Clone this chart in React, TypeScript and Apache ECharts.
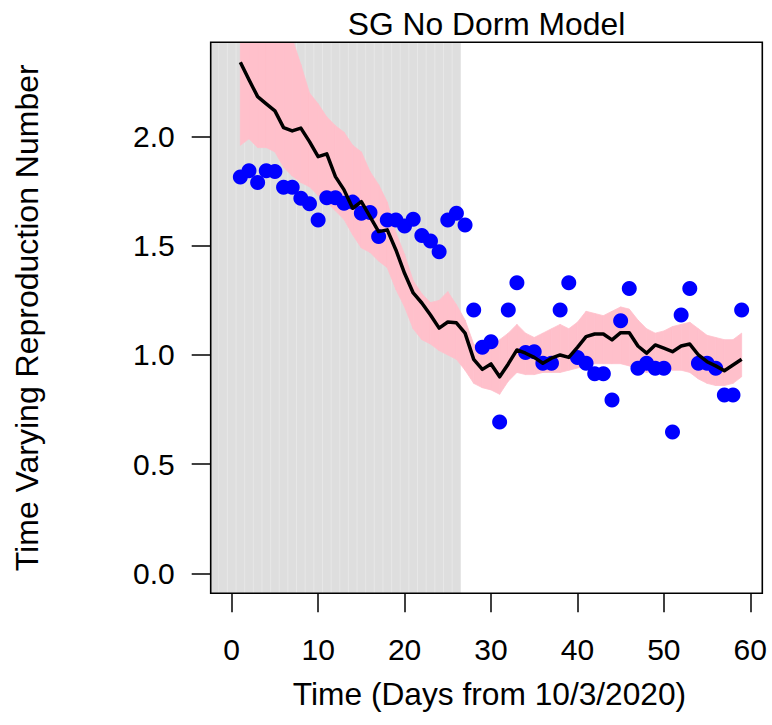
import React, { useEffect, useRef } from "react";
import * as echarts from "echarts";

// ---------- data ----------
const days = [
  1, 2, 3, 4, 5, 6, 7, 8, 9, 10, 11, 12, 13, 14, 15, 16, 17, 18, 19, 20,
  21, 22, 23, 24, 25, 26, 27, 28, 29, 30, 31, 32, 33, 34, 35, 36, 37, 38, 39, 40,
  41, 42, 43, 44, 45, 46, 47, 48, 49, 50, 51, 52, 53, 54, 55, 56, 57, 58, 59,
];

// observed (blue points)
const observedRt = [
  1.815, 1.844, 1.79, 1.844, 1.84, 1.768, 1.768, 1.718, 1.693, 1.618,
  1.72, 1.72, 1.695, 1.7, 1.649, 1.652, 1.542, 1.618, 1.618, 1.591,
  1.622, 1.547, 1.522, 1.473, 1.618, 1.649, 1.595, 1.206, 1.035, 1.061,
  0.693, 1.206, 1.331, 1.011, 1.015, 0.962, 0.962, 1.206, 1.331, 0.988,
  0.962, 0.914, 0.914, 0.794, 1.157, 1.304, 0.939, 0.962, 0.939, 0.939,
  0.647, 1.183, 1.304, 0.962, 0.962, 0.939, 0.817, 0.817, 1.206,
];

// model median (black line)
const medianRt = [
  2.341, 2.26, 2.183, 2.15, 2.118, 2.041, 2.026, 2.039, 1.977, 1.908,
  1.921, 1.817, 1.756, 1.672, 1.702, 1.634, 1.565, 1.573, 1.481, 1.374,
  1.284, 1.238, 1.183, 1.123, 1.151, 1.147, 1.1, 0.98, 0.934, 0.959,
  0.9, 0.959, 1.023, 1.008, 0.989, 0.962, 0.985, 1.0, 0.989, 1.035,
  1.084, 1.096, 1.096, 1.069, 1.102, 1.102, 1.041, 1.008, 1.046, 1.031,
  1.015, 1.041, 1.05, 1.0, 0.969, 0.95, 0.928, 0.954, 0.98,
];

// simulation envelope (pink band)
const bandUpper = [
  2.6, 2.6, 2.6, 2.6, 2.6, 2.55, 2.45, 2.33, 2.2, 2.15,
  2.09, 2.05, 2.02, 1.96, 1.93, 1.84, 1.78, 1.7, 1.56, 1.46,
  1.34, 1.28, 1.24, 1.25, 1.29, 1.23, 1.16, 1.05, 1.02, 1.03,
  1.07, 1.1, 1.14, 1.1, 1.08, 1.1, 1.12, 1.14, 1.12, 1.15,
  1.2, 1.19, 1.18, 1.2, 1.22, 1.21, 1.16, 1.12, 1.1, 1.11,
  1.13, 1.14, 1.15, 1.12, 1.09, 1.08, 1.07, 1.07, 1.1,
];
const bandLower = [
  1.96, 1.99, 1.95, 1.95, 1.93, 1.86, 1.82, 1.79, 1.77, 1.73,
  1.7, 1.66, 1.62, 1.55, 1.49, 1.47, 1.43, 1.4, 1.3, 1.22,
  1.12, 1.07, 1.05, 1.02, 1.0, 0.98, 0.93, 0.87, 0.85, 0.84,
  0.82, 0.88, 0.92, 0.91, 0.91, 0.92, 0.92, 0.92, 0.93, 0.94,
  0.95, 0.96, 0.96, 0.96, 0.96, 0.95, 0.93, 0.92, 0.93, 0.94,
  0.93, 0.93, 0.92, 0.89, 0.87, 0.86, 0.86, 0.87, 0.9,
];

const xTicks = [0, 10, 20, 30, 40, 50, 60];
const yTicks = [0, 0.5, 1.0, 1.5, 2.0];
const shadedPeriod = [-2.43, 26.5];

const titleText = "SG No Dorm Model";
const xTitle = "Time (Days from 10/3/2020)";
const yTitle = "Time Varying Reproduction Number";

// ---------- layout ----------
const W = 772;
const H = 725;
const X_MIN = -2.43;
const X_MAX = 61.39;
const Y_MIN = -0.0916;
const Y_MAX = 2.432;
const G_LEFT = 210.7;
const G_TOP = 42.3;
const G_RIGHT = 762.3;
const G_BOTTOM = 593.3;
const FONT = "'Liberation Sans', Arial, Helvetica, sans-serif";
const PINK = "#FFC0CB";

export default function App() {
  const ref = useRef<HTMLDivElement>(null);

  useEffect(() => {
    if (!ref.current) return;
    const chart = echarts.init(ref.current, undefined, { renderer: "svg" });

    const obs = days.map((d, i) => [d, observedRt[i]]);
    const med = days.map((d, i) => [d, medianRt[i]]);
    const band = days.map((d, i) => [d, bandLower[i], bandUpper[i]]);

    const option: any = {
      animation: false,
      backgroundColor: "#fff",
      grid: {
        left: G_LEFT,
        top: G_TOP,
        right: W - G_RIGHT,
        bottom: H - G_BOTTOM,
        show: false,
      },
      xAxis: {
        type: "value",
        min: X_MIN,
        max: X_MAX,
        axisLine: { show: false, onZero: false },
        splitLine: { show: false },
        axisTick: {
          show: true,
          length: 19,
          customValues: xTicks,
          lineStyle: { color: "#000", width: 1.5 },
        },
        axisLabel: {
          customValues: xTicks,
          fontSize: 30,
          fontFamily: FONT,
          color: "#000",
          margin: 56,
          verticalAlign: "middle",
          formatter: (v: number) => String(v),
        },
      },
      yAxis: {
        type: "value",
        min: Y_MIN,
        max: Y_MAX,
        axisLine: { show: false, onZero: false },
        splitLine: { show: false },
        axisTick: {
          show: true,
          length: 19,
          customValues: yTicks,
          lineStyle: { color: "#000", width: 1.5 },
        },
        axisLabel: {
          customValues: yTicks,
          fontSize: 30,
          fontFamily: FONT,
          color: "#000",
          margin: 36,
          formatter: (v: number) => v.toFixed(1),
        },
      },
      series: [
        {
          type: "custom",
          z: 0,
          silent: true,
          clip: true,
          data: [shadedPeriod],
          renderItem: (params: any, api: any) => {
            const cs = params.coordSys;
            const x0 = api.coord([api.value(0), 0])[0];
            const x1 = api.coord([api.value(1), 0])[0];
            const left = Math.max(x0, cs.x);
            const children: any[] = [
              {
                type: "rect",
                shape: { x: left, y: cs.y, width: x1 - left, height: cs.height },
                style: { fill: "#DEDEDE" },
              },
            ];
            const start = Math.ceil(api.value(0) - 0.5);
            for (let k = start; k + 0.5 < api.value(1); k++) {
              const px = api.coord([k + 0.5, 0])[0];
              children.push({
                type: "line",
                shape: { x1: px, y1: cs.y, x2: px, y2: cs.y + cs.height },
                style: { stroke: "#E7E7E7", lineWidth: 1 },
              });
            }
            return { type: "group", children };
          },
        },
        {
          type: "custom",
          z: 1,
          silent: true,
          clip: true,
          data: band,
          renderItem: (params: any, api: any) => {
            const i = params.dataIndex;
            if (i >= band.length - 1) return null;
            const a = band[i];
            const b = band[i + 1];
            const pts = [
              api.coord([a[0], a[1]]),
              api.coord([b[0], b[1]]),
              api.coord([b[0], b[2]]),
              api.coord([a[0], a[2]]),
            ];
            return {
              type: "polygon",
              shape: { points: pts },
              style: { fill: PINK, stroke: PINK, lineWidth: 0.8 },
            };
          },
        },
        {
          type: "scatter",
          z: 3,
          data: obs,
          symbol: "circle",
          symbolSize: 15,
          itemStyle: { color: "#0000FF", opacity: 1 },
        },
        {
          type: "line",
          z: 4,
          data: med,
          symbol: "none",
          lineStyle: { color: "#000", width: 3.5, join: "round" },
        },
      ],
      graphic: [
        {
          type: "rect",
          z: 100,
          silent: true,
          shape: {
            x: G_LEFT,
            y: G_TOP,
            width: G_RIGHT - G_LEFT,
            height: G_BOTTOM - G_TOP,
          },
          style: { fill: "none", stroke: "#000", lineWidth: 1.6 },
        },
        {
          type: "text",
          z: 100,
          x: (G_LEFT + G_RIGHT) / 2,
          y: 23.7,
          style: {
            text: titleText,
            fontSize: 31.8,
            fontFamily: FONT,
            fill: "#000",
            align: "center",
            verticalAlign: "middle",
          },
        },
        {
          type: "text",
          z: 100,
          x: (G_LEFT + G_RIGHT) / 2 + 3,
          y: 694.2,
          style: {
            text: xTitle,
            fontSize: 31.7,
            fontFamily: FONT,
            fill: "#000",
            align: "center",
            verticalAlign: "middle",
          },
        },
        {
          type: "text",
          z: 100,
          x: 27,
          y: (G_TOP + G_BOTTOM) / 2,
          rotation: Math.PI / 2,
          style: {
            text: yTitle,
            fontSize: 32,
            fontFamily: FONT,
            fill: "#000",
            align: "center",
            verticalAlign: "middle",
          },
        },
      ],
    };

    chart.setOption(option);
    return () => chart.dispose();
  }, []);

  return (
    <div
      ref={ref}
      style={{ position: "fixed", left: 0, top: 0, width: W, height: H, background: "#fff" }}
    />
  );
}
